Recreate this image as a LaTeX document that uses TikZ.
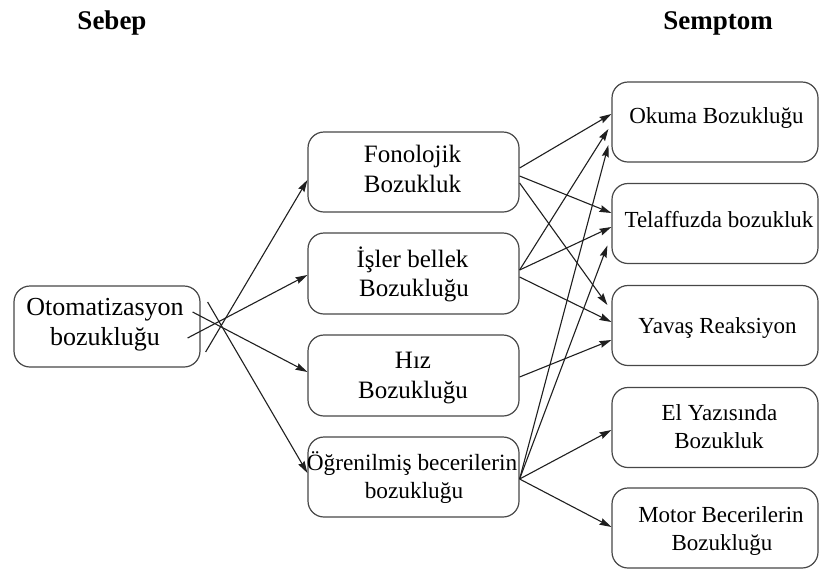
\documentclass[tikz,border=0pt]{standalone}
\usepackage{fontspec}
\setmainfont{Liberation Serif}
\usetikzlibrary{arrows.meta,calc}
\begin{document}
\begin{tikzpicture}[x=1pt,y=-1pt,
  box/.style={draw=black!72, line width=1.2pt, rounded corners=16pt,
    minimum width=#1, minimum height=80pt, inner sep=0pt},
  tl/.style={anchor=base, inner sep=0pt, font=\fontsize{26}{30}\selectfont},
  tm/.style={anchor=base, inner sep=0pt, font=\fontsize{25}{30}\selectfont},
  tr/.style={anchor=base, inner sep=0pt, font=\fontsize{23}{28}\selectfont},
  ttl/.style={anchor=base, inner sep=0pt, font=\fontsize{27}{30}\selectfont\bfseries},
  conn/.style={-{Stealth[length=12pt,width=7pt,inset=1.5pt]}, line width=1.1pt, black!88}]
\useasboundingbox (0,0) rectangle (819,574);

% titles
\node[ttl] (sebep) at (112,29) {Sebep};
\node[ttl] (semptom) at (718,29) {Semptom};

% left box
\node[box=186pt, minimum height=81pt] (oto) at (107,326.5) {};
\node[tl] (otoA) at (105,315) {Otomatizasyon};
\node[tl] (otoB) at (105,345) {bozukluğu};

% middle boxes
\node[box=211pt] (fon) at (413.5,172) {};
\node[tm] (fonA) at (412.5,162) {Fonolojik};
\node[tm] (fonB) at (412.5,192) {Bozukluk};

\node[box=211pt, minimum height=81pt] (isl) at (413.5,273.5) {};
\node[tm] (islA) at (412.5,267) {İşler bellek};
\node[tm] (islB) at (414,296) {Bozukluğu};

\node[box=211pt, minimum height=81pt] (hiz) at (413.5,375.5) {};
\node[tm] (hizA) at (413,368) {Hız};
\node[tm] (hizB) at (413,398) {Bozukluğu};

\node[box=211pt] (ogr) at (413.5,477) {};
\node[tm, font=\fontsize{23.3}{28}\selectfont] (ogrA) at (412,470) {Öğrenilmiş becerilerin};
\node[tm, font=\fontsize{23.3}{28}\selectfont] (ogrB) at (414,498) {bozukluğu};

% right boxes
\node[box=206pt] (oku) at (715,122) {};
\node[tr] (okuA) at (716.5,123) {Okuma Bozukluğu};

\node[box=206pt] (tel) at (715,223.5) {};
\node[tr] (telA) at (719,227) {Telaffuzda bozukluk};

\node[box=206pt] (yav) at (715,325.5) {};
\node[tr] (yavA) at (717.5,333) {Yavaş Reaksiyon};

\node[box=206pt] (ely) at (715,427.5) {};
\node[tr] (elyA) at (719.5,420) {El Yazısında};
\node[tr] (elyB) at (719,448) {Bozukluk};

\node[box=206pt] (mot) at (715,528) {};
\node[tr] (motA) at (721,522) {Motor Becerilerin};
\node[tr] (motB) at (722,550) {Bozukluğu};

% connectors from the cause
\draw[conn] ($(oto.east)+(5,25.5)$) -- ($(fon.west)+(0,8)$);
\draw[conn] ($(oto.east)+(-13,11.5)$) -- ($(isl.west)+(0,1.5)$);
\draw[conn] ($(oto.east)+(-8,-14.5)$) -- ($(hiz.west)+(0,-3.5)$);
\draw[conn] ($(oto.east)+(7,-24.5)$) -- ($(ogr.west)+(0,-4)$);

% connectors to the symptoms
\draw[conn] ($(fon.east)+(0,-4)$) -- ($(oku.west)+(0,-8)$);
\draw[conn] ($(fon.east)+(0,4)$) -- ($(tel.west)+(0,-10.5)$);
\draw[conn] ($(fon.east)+(0,11)$) -- ($(yav.west)+(-4,-20.5)$);

\draw[conn] ($(isl.east)+(0,-3.5)$) -- ($(oku.west)+(-3,7)$);
\draw[conn] ($(isl.east)+(0,-3.5)$) -- ($(tel.west)+(0,3.5)$);
\draw[conn] ($(isl.east)+(0,3.5)$) -- ($(yav.west)+(0,-3.5)$);

\draw[conn] ($(hiz.east)+(0,1.5)$) -- ($(yav.west)+(0,14.5)$);

\draw[conn] ($(ogr.east)+(0,2)$) -- ($(oku.west)+(-3,23)$);
\draw[conn] ($(ogr.east)+(0,2)$) -- ($(tel.west)+(-4,22)$);
\draw[conn] ($(ogr.east)+(0,2)$) -- ($(ely.west)+(0,2.5)$);
\draw[conn] ($(ogr.east)+(0,2)$) -- ($(mot.west)+(0,-1)$);
\end{tikzpicture}
\end{document}
